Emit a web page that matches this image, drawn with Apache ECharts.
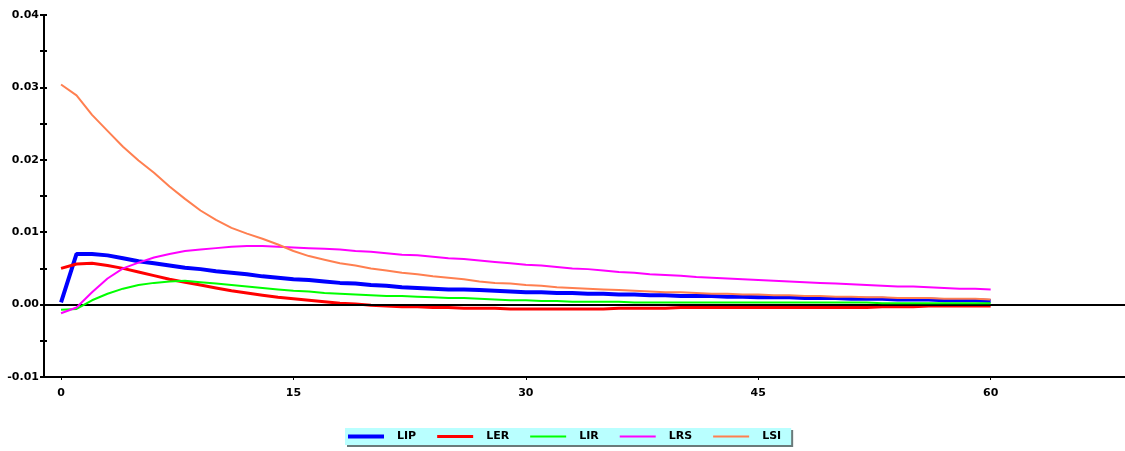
<!DOCTYPE html>
<html>
<head>
<meta charset="utf-8">
<script src="https://cdn.jsdelivr.net/npm/echarts@6/dist/echarts.min.js"></script>
<style>
html,body{margin:0;padding:0;background:#fff;}
#chart{width:1125px;height:451px;}
</style>
</head>
<body>
<div id="chart"></div>
<script>
var seriesNames = ['LIP', 'LER', 'LIR', 'LRS', 'LSI'];
var xTicks = [0, 15, 30, 45, 60];
var yLabelValues = [-0.01, 0.00, 0.01, 0.02, 0.03, 0.04];

var LIP = [0.0003,0.0070,0.0070,0.0068,0.0064,0.0060,0.0057,0.0054,0.0051,0.0049,
  0.0046,0.0044,0.0042,0.0039,0.0037,0.0035,0.0034,0.0032,0.0030,0.0029,
  0.0027,0.0026,0.0024,0.0023,0.0022,0.0021,0.0021,0.0020,0.0019,0.0018,
  0.0017,0.0017,0.0016,0.0016,0.0015,0.0015,0.0014,0.0014,0.0013,0.0013,
  0.0012,0.0012,0.0012,0.0011,0.0011,0.0010,0.0010,0.0010,0.0009,0.0009,
  0.0009,0.0008,0.0008,0.0008,0.0007,0.0007,0.0007,0.0006,0.0006,0.0006,0.0005];
var LER = [0.0050,0.0056,0.0057,0.0054,0.0050,0.0045,0.0040,0.0035,0.0031,0.0027,
  0.0023,0.0019,0.0016,0.0013,0.0010,0.0008,0.0006,0.0004,0.0002,0.0001,
  -0.0001,-0.0002,-0.0003,-0.0003,-0.0004,-0.0004,-0.0005,-0.0005,-0.0005,-0.0006,
  -0.0006,-0.0006,-0.0006,-0.0006,-0.0006,-0.0006,-0.0005,-0.0005,-0.0005,-0.0005,
  -0.0004,-0.0004,-0.0004,-0.0004,-0.0004,-0.0004,-0.0004,-0.0004,-0.0004,-0.0004,
  -0.0004,-0.0004,-0.0004,-0.0003,-0.0003,-0.0003,-0.0002,-0.0002,-0.0002,-0.0002,-0.0002];
var LIR = [-0.0007,-0.0006,0.0006,0.0015,0.0022,0.0027,0.0030,0.0032,0.0033,0.0031,
  0.0029,0.0027,0.0025,0.0023,0.0021,0.0019,0.0018,0.0016,0.0015,0.0014,
  0.0013,0.0012,0.0012,0.0011,0.0010,0.0009,0.0009,0.0008,0.0007,0.0006,
  0.0006,0.0005,0.0005,0.0004,0.0004,0.0004,0.0004,0.0003,0.0003,0.0003,
  0.0003,0.0003,0.0003,0.0003,0.0003,0.0003,0.0003,0.0003,0.0003,0.0003,
  0.0003,0.0003,0.0003,0.0002,0.0002,0.0002,0.0002,0.0002,0.0002,0.0002,0.0002];
var LRS = [-0.0012,-0.0004,0.0017,0.0036,0.0050,0.0058,0.0065,0.0070,0.0074,0.0076,
  0.0078,0.0080,0.0081,0.0081,0.0080,0.0079,0.0078,0.0077,0.0076,0.0074,
  0.0073,0.0071,0.0069,0.0068,0.0066,0.0064,0.0063,0.0061,0.0059,0.0057,
  0.0055,0.0054,0.0052,0.0050,0.0049,0.0047,0.0045,0.0044,0.0042,0.0041,
  0.0040,0.0038,0.0037,0.0036,0.0035,0.0034,0.0033,0.0032,0.0031,0.0030,
  0.0029,0.0028,0.0027,0.0026,0.0025,0.0025,0.0024,0.0023,0.0022,0.0022,0.0021];
var LSI = [0.0304,0.0289,0.0262,0.0240,0.0218,0.0199,0.0182,0.0163,0.0146,0.0130,
  0.0117,0.0106,0.0098,0.0091,0.0083,0.0074,0.0067,0.0062,0.0057,0.0054,
  0.0050,0.0047,0.0044,0.0042,0.0039,0.0037,0.0035,0.0032,0.0030,0.0029,
  0.0027,0.0026,0.0024,0.0023,0.0022,0.0021,0.0020,0.0019,0.0018,0.0017,
  0.0017,0.0016,0.0015,0.0015,0.0014,0.0014,0.0013,0.0013,0.0012,0.0012,
  0.0011,0.0011,0.0010,0.0010,0.0009,0.0009,0.0009,0.0008,0.0008,0.0008,0.0007];

var seriesValues = [LIP, LER, LIR, LRS, LSI];
var colors = ['#0000ff', '#ff0000', '#00ff00', '#ff00ff', '#ff7f50'];
var widths = [4, 3, 2, 2, 2];

function pairs(arr) {
  return arr.map(function (v, i) { return [i, v]; });
}

var series = seriesNames.map(function (name, k) {
  return {
    name: name,
    type: 'line',
    data: pairs(seriesValues[k]),
    symbol: 'none',
    showSymbol: false,
    lineStyle: { color: colors[k], width: widths[k] },
    itemStyle: { color: colors[k] },
    z: 3 + k
  };
});
series.unshift({
  name: 'zero',
  type: 'line',
  data: [],
  symbol: 'none',
  z: 2,
  markLine: {
    silent: true,
    symbol: ['none', 'none'],
    label: { show: false },
    lineStyle: { color: '#000', width: 2, type: 'solid' },
    data: [{ yAxis: 0 }]
  }
});

var legendData = seriesNames.map(function (name, k) {
  return {
    name: name,
    icon: 'path://M0,0L36,0L36,' + widths[k] + 'L0,' + widths[k] + 'Z',
    itemStyle: { color: colors[k] }
  };
});

var chart = echarts.init(document.getElementById('chart'), null, { renderer: 'canvas' });
chart.setOption({
  animation: false,
  backgroundColor: '#ffffff',
  grid: { left: 44, right: 0, top: 15, bottom: 74, containLabel: false },
  legend: {
    data: legendData,
    left: 345,
    top: 428,
    orient: 'horizontal',
    itemWidth: 36,
    itemHeight: 10,
    itemGap: 21,
    padding: [3, 10, 3, 3],
    backgroundColor: '#b9ffff',
    shadowColor: '#6a7a7a',
    shadowOffsetX: 2,
    shadowOffsetY: 2,
    shadowBlur: 0,
    textStyle: {
      fontFamily: 'DejaVu Sans',
      fontWeight: 'bold',
      fontSize: 11,
      color: '#000',
      width: 21,
      padding: [0, 0, 0, 8]
    }
  },
  xAxis: {
    type: 'value',
    min: -1.1,
    max: 68.67,
    splitLine: { show: false },
    axisLine: { onZero: false, lineStyle: { color: '#000', width: 2 } },
    axisTick: { show: true, inside: false, length: 3, customValues: xTicks, lineStyle: { color: '#000', width: 1 } },
    axisLabel: {
      customValues: xTicks,
      color: '#000',
      fontFamily: 'DejaVu Sans',
      fontWeight: 'bold',
      fontSize: 11,
      margin: 11
    }
  },
  yAxis: [{
    type: 'value',
    min: -0.01,
    max: 0.04,
    interval: 0.005,
    splitLine: { show: false },
    axisLine: { show: true, onZero: false, lineStyle: { color: '#000', width: 2 } },
    axisTick: { show: true, inside: false, length: 4, lineStyle: { color: '#000', width: 2 } },
    axisLabel: {
      color: '#000',
      fontFamily: 'DejaVu Sans',
      fontWeight: 'bold',
      fontSize: 11,
      margin: 5,
      formatter: function (v) {
        for (var i = 0; i < yLabelValues.length; i++) {
          if (Math.abs(yLabelValues[i] - v) < 1e-9) return yLabelValues[i].toFixed(2);
        }
        return '';
      }
    }
  }, {
    type: 'value',
    position: 'left',
    offset: 0,
    min: -0.01,
    max: 0.04,
    interval: 0.005,
    splitLine: { show: false },
    axisLine: { show: false, onZero: false },
    axisTick: { show: true, inside: true, length: 3, lineStyle: { color: '#000', width: 2 } },
    axisLabel: { show: false }
  }],
  series: series
});
</script>
</body>
</html>
